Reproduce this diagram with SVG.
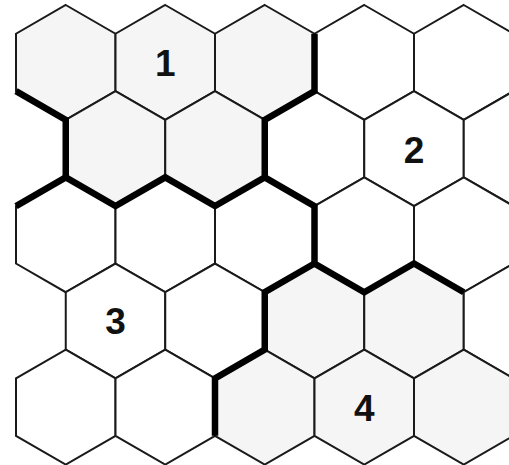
<svg xmlns="http://www.w3.org/2000/svg" xmlns:xlink="http://www.w3.org/1999/xlink" width="509" height="465" viewBox="0 0 509 465">
<style>
.c{stroke:#1a1a1a;stroke-width:2;stroke-linejoin:miter}
.w{fill:#ffffff}
.g{fill:#f5f5f5}
.n{font-family:"Liberation Sans",Arial,sans-serif;font-weight:bold;font-size:37px;fill:#111;text-anchor:middle;dominant-baseline:central}
.b{fill:none;stroke:#000;stroke-width:6.5;stroke-linejoin:miter;stroke-linecap:butt}
</style>
<defs>
<polygon id="hx" points="0,-57.45 49.75,-28.72 49.75,28.72 0,57.45 -49.75,28.72 -49.75,-28.72"/>
</defs>
<rect width="509" height="465" fill="#fff"/>
<g id="cells">
<g id="r0c0"><use xlink:href="#hx" href="#hx" class="c g" x="65.75" y="62.45"/></g>
<g id="r0c1"><use xlink:href="#hx" href="#hx" class="c g" x="165.25" y="62.45"/><text class="n" x="165.25" y="63.5">1</text></g>
<g id="r0c2"><use xlink:href="#hx" href="#hx" class="c g" x="264.75" y="62.45"/></g>
<g id="r0c3"><use xlink:href="#hx" href="#hx" class="c w" x="364.25" y="62.45"/></g>
<g id="r0c4"><use xlink:href="#hx" href="#hx" class="c w" x="463.75" y="62.45"/></g>

<g id="r1c0"><use xlink:href="#hx" href="#hx" class="c g" x="115.5" y="148.62"/></g>
<g id="r1c1"><use xlink:href="#hx" href="#hx" class="c g" x="215" y="148.62"/></g>
<g id="r1c2"><use xlink:href="#hx" href="#hx" class="c w" x="314.5" y="148.62"/></g>
<g id="r1c3"><use xlink:href="#hx" href="#hx" class="c w" x="414" y="148.62"/><text class="n" x="414" y="150">2</text></g>
<g id="r1c4"><use xlink:href="#hx" href="#hx" class="c w" x="513.5" y="148.62"/></g>

<g id="r2c0"><use xlink:href="#hx" href="#hx" class="c w" x="65.75" y="234.79"/></g>
<g id="r2c1"><use xlink:href="#hx" href="#hx" class="c w" x="165.25" y="234.79"/></g>
<g id="r2c2"><use xlink:href="#hx" href="#hx" class="c w" x="264.75" y="234.79"/></g>
<g id="r2c3"><use xlink:href="#hx" href="#hx" class="c w" x="364.25" y="234.79"/></g>
<g id="r2c4"><use xlink:href="#hx" href="#hx" class="c w" x="463.75" y="234.79"/></g>

<g id="r3c0"><use xlink:href="#hx" href="#hx" class="c w" x="115.5" y="320.96"/><text class="n" x="115.5" y="321.5">3</text></g>
<g id="r3c1"><use xlink:href="#hx" href="#hx" class="c w" x="215" y="320.96"/></g>
<g id="r3c2"><use xlink:href="#hx" href="#hx" class="c g" x="314.5" y="320.96"/></g>
<g id="r3c3"><use xlink:href="#hx" href="#hx" class="c g" x="414" y="320.96"/></g>
<g id="r3c4"><use xlink:href="#hx" href="#hx" class="c w" x="513.5" y="320.96"/></g>

<g id="r4c0"><use xlink:href="#hx" href="#hx" class="c w" x="65.75" y="407.13"/></g>
<g id="r4c1"><use xlink:href="#hx" href="#hx" class="c w" x="165.25" y="407.13"/></g>
<g id="r4c2"><use xlink:href="#hx" href="#hx" class="c g" x="264.75" y="407.13"/></g>
<g id="r4c3"><use xlink:href="#hx" href="#hx" class="c g" x="364.25" y="407.13"/><text class="n" x="364.25" y="408.5">4</text></g>
<g id="r4c4"><use xlink:href="#hx" href="#hx" class="c g" x="463.75" y="407.13"/></g>
</g>
<g id="borders">
<path class="b" d="M16,91.17 L65.75,119.9 L65.75,177.34 L115.5,206.07 L165.25,177.34 L215,206.07 L264.75,177.34 L264.75,119.9 L314.5,91.17 L314.5,33.73"/>
<path class="b" d="M16,206.07 L65.75,177.34"/>
<path class="b" d="M264.75,177.34 L314.5,206.07 L314.5,263.51 L364.25,292.24 L414,263.51 L463.75,292.24"/>
<path class="b" d="M314.5,263.51 L264.75,292.24 L264.75,349.68 L215,378.41 L215,435.85"/>
</g>
</svg>
